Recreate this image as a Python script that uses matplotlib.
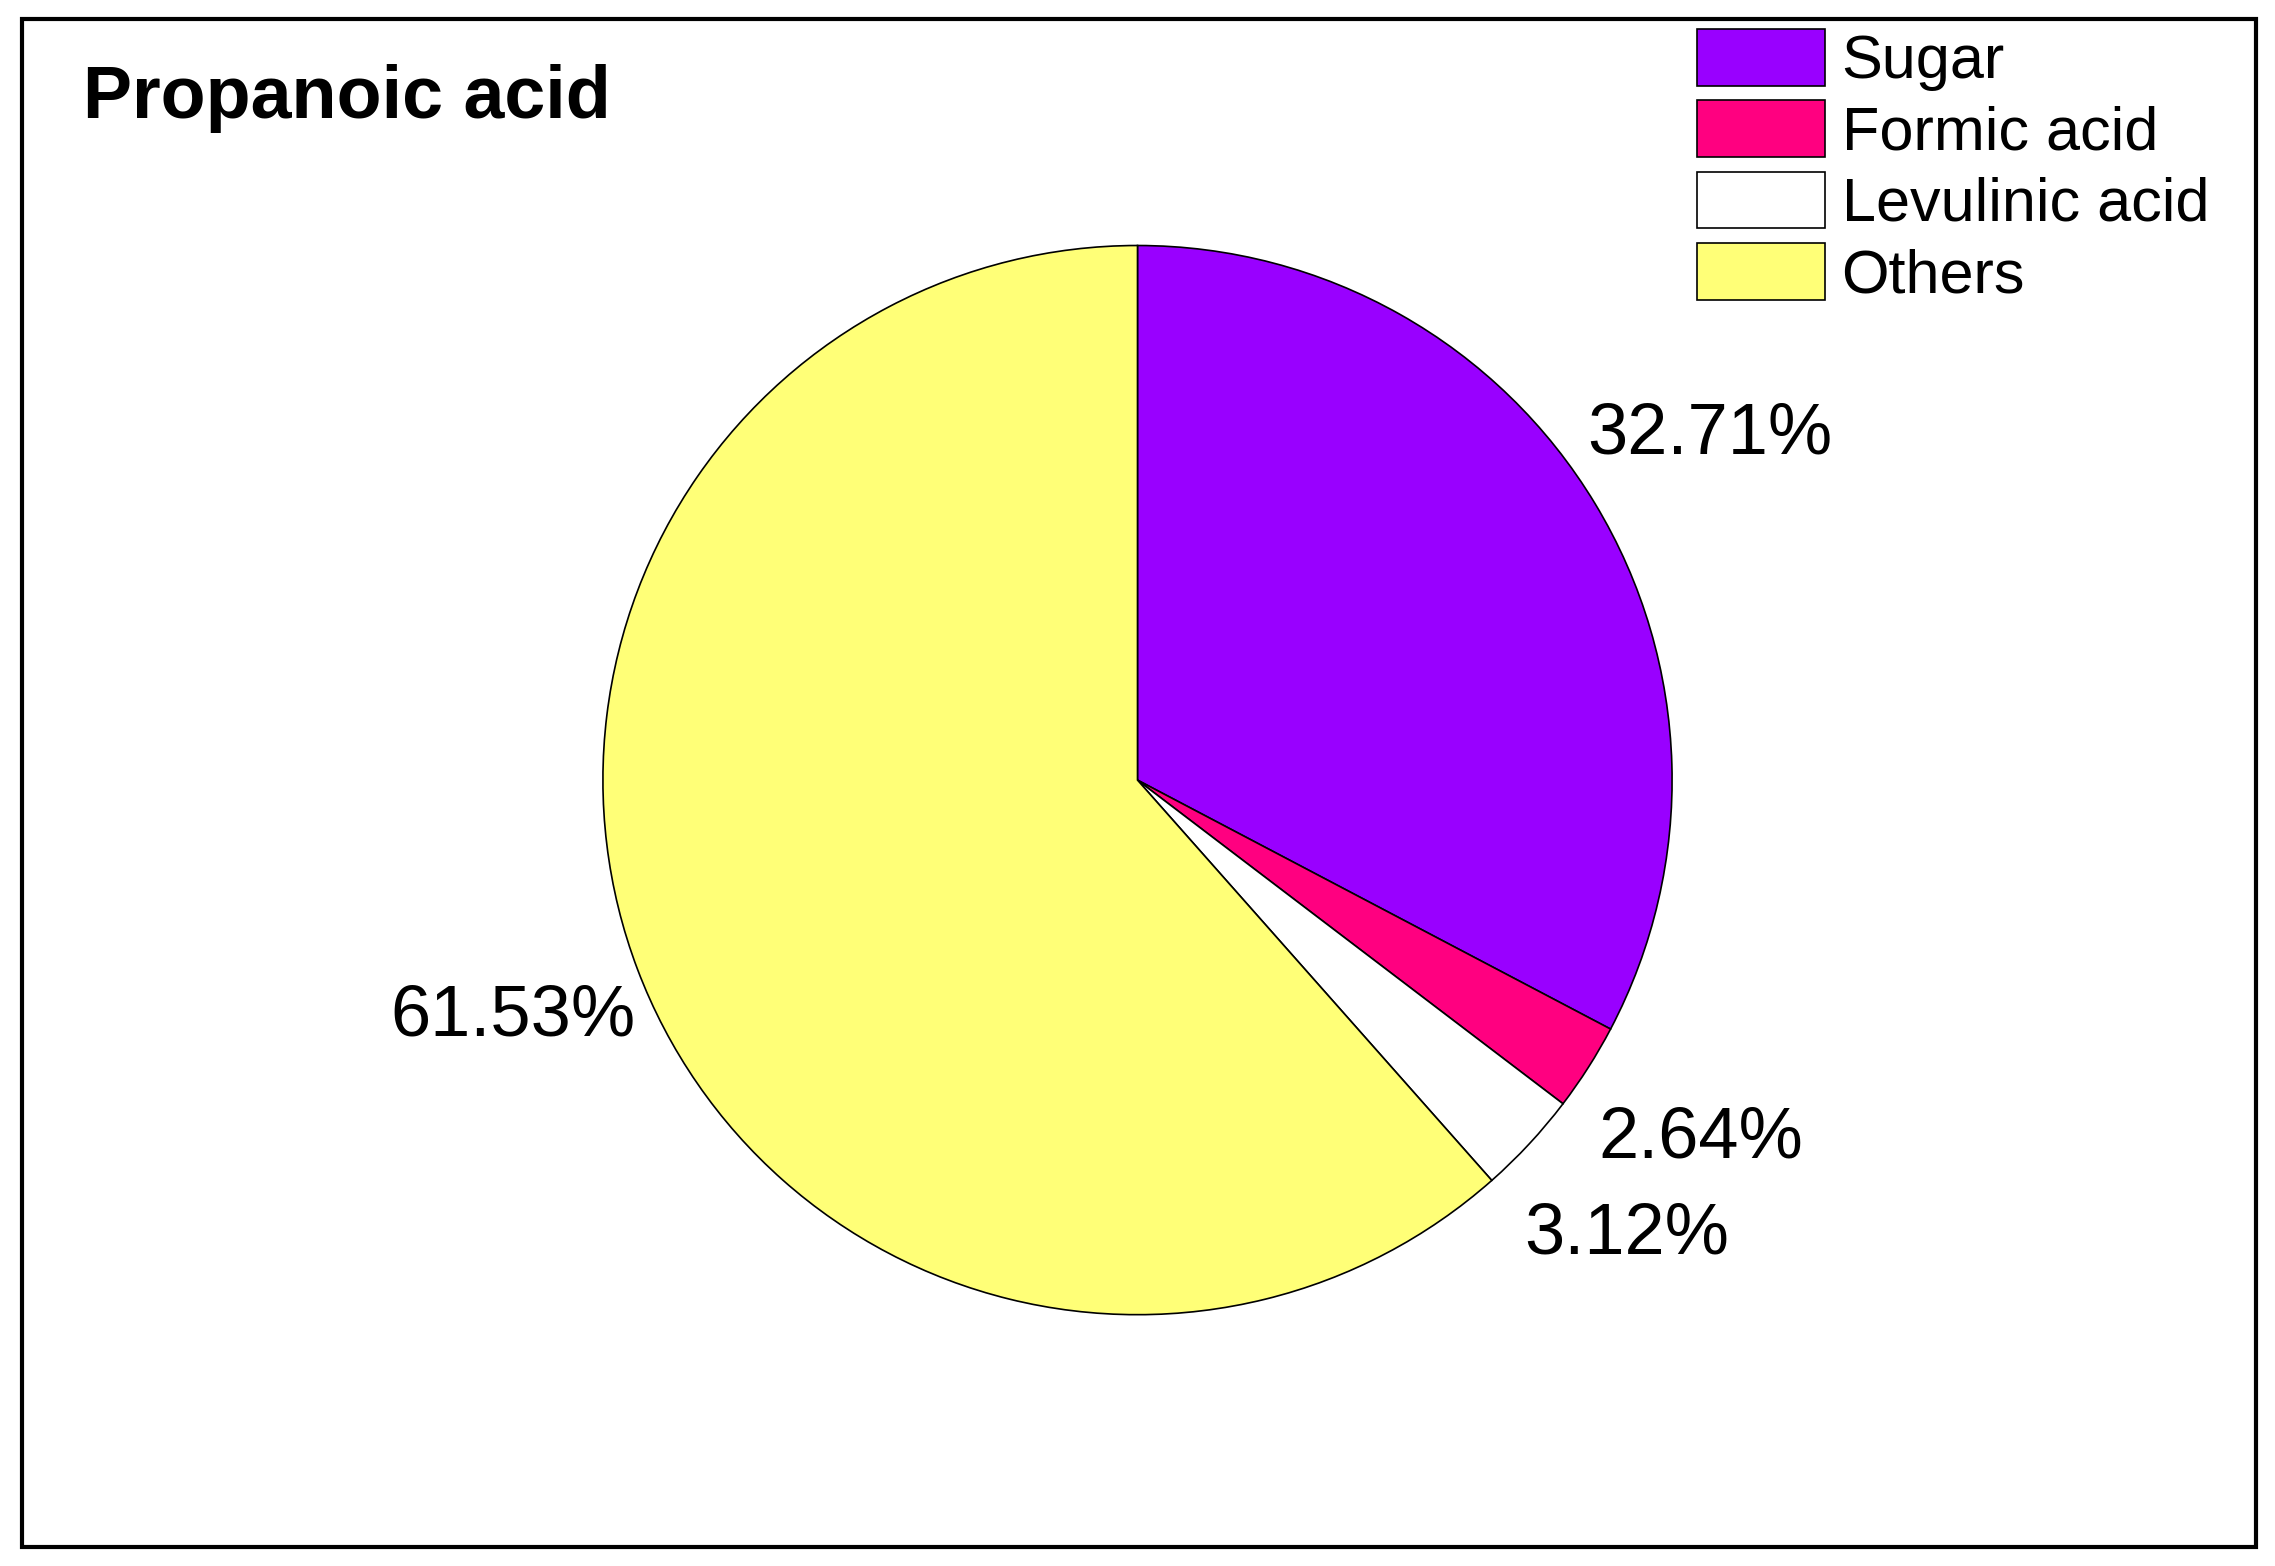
import matplotlib.pyplot as plt
from matplotlib.patches import Rectangle

plt.rcParams['font.family'] = ['Liberation Sans', 'DejaVu Sans']

labels = ["Sugar", "Formic acid", "Levulinic acid", "Others"]
values = [32.71, 2.64, 3.12, 61.53]
colors = ["#9900ff", "#ff0080", "#ffffff", "#ffff77"]

fig = plt.figure(figsize=(22.75, 15.66), dpi=100)
ax = fig.add_axes([0, 0, 1, 1])
ax.set_xlim(0, 1566)
ax.set_ylim(0, 1078)
ax.set_aspect("equal")
ax.axis("off")

wedges, texts, autotexts = ax.pie(values, colors=colors, startangle=90, counterclock=False,
                                  center=(783, 541), radius=368, frame=True,
                                  autopct="%.2f%%", pctdistance=1.25,
                                  wedgeprops=dict(edgecolor="black", linewidth=1.2))
for t in autotexts:
    t.set_fontsize(52)
ax.set_xlim(0, 1566)
ax.set_ylim(0, 1078)
ax.axis("off")

ax.add_patch(Rectangle((15, 13), 1538, 1052, fill=False, edgecolor="black", linewidth=3))
ax.text(57, 1010, "Propanoic acid", fontsize=53, fontweight="bold", va="center", ha="left")

leg = ax.legend(wedges, labels, loc="upper left", bbox_to_anchor=(1168 / 1566, 1 - 20 / 1078),
                frameon=False, fontsize=44, handlelength=2.1, handleheight=1.05,
                labelspacing=0.15, handletextpad=0.27, borderpad=0, borderaxespad=0)

fig.savefig("out.png", dpi=100)
